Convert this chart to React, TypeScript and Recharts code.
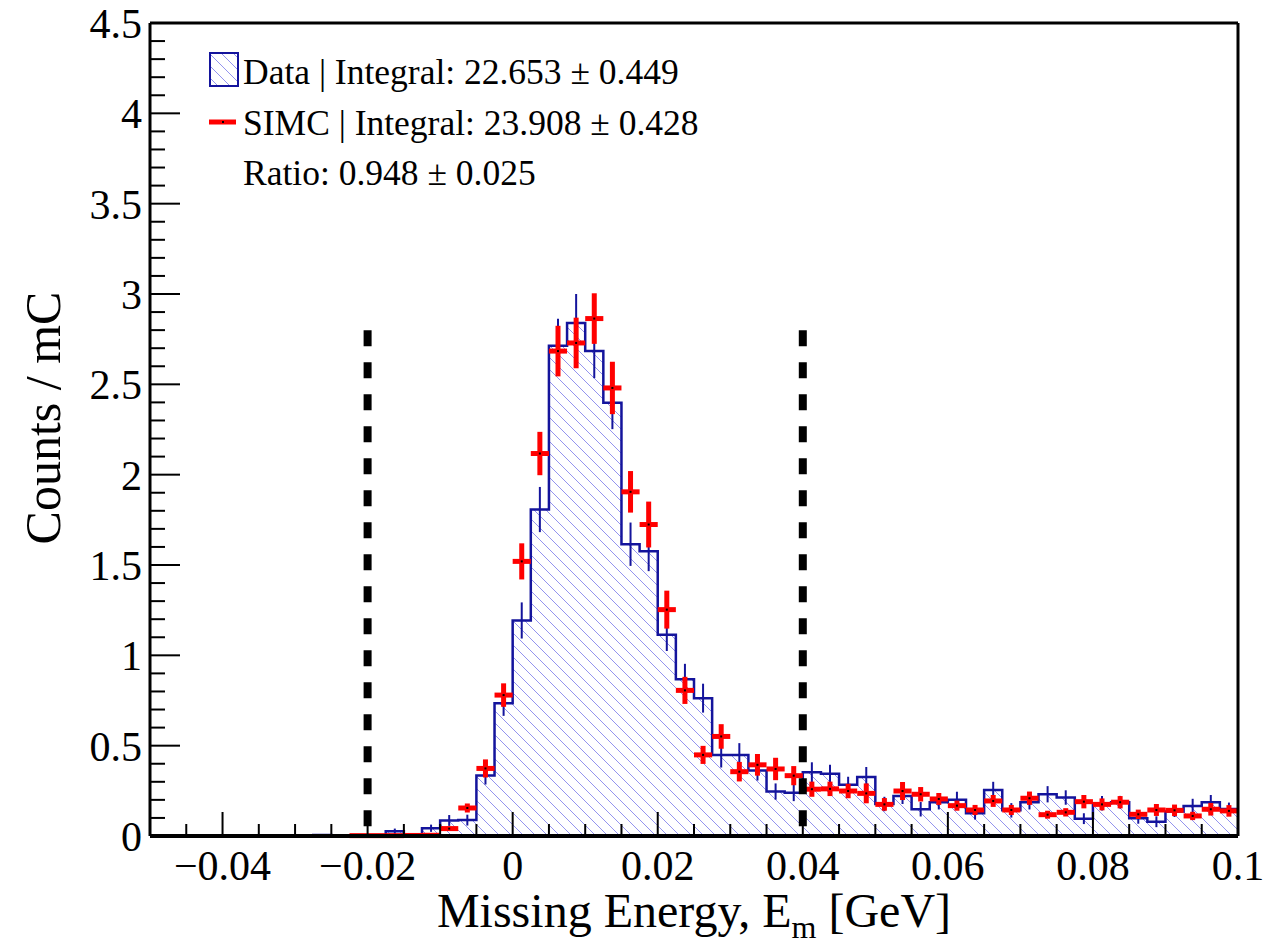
import React from "react";
import {
  Area,
  ComposedChart,
  ErrorBar,
  ReferenceLine,
  Scatter,
  XAxis,
  YAxis,
} from "recharts";

// binning of the histograms (60 bins of 2.5 MeV)
const BIN_LOW = -0.05;
const BIN_WIDTH = 0.0025;

const dataCounts = [
  0.004, 0.004, 0.004, 0.004, 0.004, 0.004, 0.004, 0.004, 0.004, 0.006,
  0.003, 0.003, 0.004, 0.026, 0.005, 0.043, 0.086, 0.088, 0.335, 0.735,
  1.193, 1.807, 2.713, 2.84, 2.684, 2.398, 1.615, 1.576, 1.114, 0.868,
  0.763, 0.449, 0.449, 0.362, 0.246, 0.24, 0.353, 0.345, 0.283, 0.327,
  0.177, 0.222, 0.148, 0.187, 0.2, 0.126, 0.255, 0.142, 0.187, 0.231,
  0.213, 0.096, 0.181, 0.187, 0.098, 0.079, 0.135, 0.166, 0.187, 0.15,
];
const dataErrors = [
  0.003, 0.003, 0.003, 0.003, 0.003, 0.003, 0.003, 0.003, 0.004, 0.005,
  0.003, 0.003, 0.004, 0.015, 0.004, 0.02, 0.03, 0.03, 0.05, 0.07,
  0.1, 0.125, 0.15, 0.16, 0.15, 0.146, 0.12, 0.11, 0.09, 0.085,
  0.08, 0.07, 0.065, 0.055, 0.045, 0.047, 0.055, 0.05, 0.045, 0.055,
  0.04, 0.045, 0.04, 0.04, 0.045, 0.035, 0.045, 0.04, 0.04, 0.045,
  0.04, 0.03, 0.04, 0.035, 0.03, 0.03, 0.03, 0.04, 0.04, 0.035,
];
const simcCounts = [
  null, null, null, null, null, null, null, null, null, null,
  null, 0.002, 0.002, 0.002, 0.003, 0.004, 0.041, 0.155, 0.374, 0.78,
  1.52, 2.117, 2.684, 2.729, 2.864, 2.48, 1.905, 1.724, 1.253, 0.806,
  0.449, 0.551, 0.356, 0.394, 0.371, 0.334, 0.259, 0.261, 0.249, 0.236,
  0.175, 0.249, 0.231, 0.205, 0.168, 0.144, 0.194, 0.144, 0.209, 0.118,
  0.131, 0.19, 0.175, 0.187, 0.12, 0.144, 0.142, 0.111, 0.148, 0.139,
];
const simcErrors = [
  0, 0, 0, 0, 0, 0, 0, 0, 0, 0,
  0, 0.003, 0.003, 0.003, 0.004, 0.006, 0.01, 0.025, 0.05, 0.065,
  0.1, 0.12, 0.14, 0.14, 0.14, 0.145, 0.115, 0.127, 0.105, 0.075,
  0.05, 0.068, 0.054, 0.06, 0.062, 0.053, 0.042, 0.04, 0.04, 0.055,
  0.035, 0.05, 0.04, 0.033, 0.028, 0.028, 0.033, 0.028, 0.037, 0.022,
  0.023, 0.037, 0.033, 0.034, 0.026, 0.033, 0.032, 0.023, 0.035, 0.032,
];

const xMajorTicks = [-0.04, -0.02, 0, 0.02, 0.04, 0.06, 0.08, 0.1];
const xTickLabels = ["\u22120.04", "\u22120.02", "0", "0.02", "0.04", "0.06", "0.08", "0.1"];
const yMajorTicks = [0, 0.5, 1, 1.5, 2, 2.5, 3, 3.5, 4, 4.5];
const yTickLabels = ["0", "0.5", "1", "1.5", "2", "2.5", "3", "3.5", "4", "4.5"];

// missing energy cut window
const cutLow = -0.02;
const cutHigh = 0.04;
const cutTop = 2.8;

const legendLines = [
  "Data | Integral: 22.653 \u00b1 0.449",
  "SIMC | Integral: 23.908 \u00b1 0.428",
  "Ratio: 0.948 \u00b1 0.025",
];

const FONT = "'Liberation Serif', 'Times New Roman', serif";
const BLUE = "#14149c";
const HATCH = "#9494ee";
const RED = "#ff0000";

const W = 1273;
const H = 944;
const M = { top: 23, right: 35, bottom: 0, left: 0 };

const xMinorTicks: number[] = [];
for (let i = 0; i <= 30; i++) xMinorTicks.push(Math.round((-0.05 + i * 0.005) * 1e4) / 1e4);
const yMinorTicks: number[] = [];
for (let i = 0; i <= 45; i++) yMinorTicks.push(Math.round(i * 0.1 * 10) / 10);

const stepData = dataCounts.map((v, i) => ({ x: BIN_LOW + i * BIN_WIDTH, data: v }));
stepData.push({ x: BIN_LOW + dataCounts.length * BIN_WIDTH, data: dataCounts[dataCounts.length - 1] });

const dataPoints = dataCounts.map((v, i) => ({
  x: BIN_LOW + (i + 0.5) * BIN_WIDTH,
  y: v,
  ey: dataErrors[i],
}));
const simcPoints = simcCounts
  .map((v, i) => ({ x: BIN_LOW + (i + 0.5) * BIN_WIDTH, y: v, ey: simcErrors[i], ex: BIN_WIDTH / 2 }))
  .filter((p) => p.y !== null);

const isMajor = (list: number[], v: number) => list.findIndex((t) => Math.abs(t - v) < 1e-9);

const XTick = (props: any) => {
  const { x, y, payload } = props;
  const idx = isMajor(xMajorTicks, payload.value);
  return (
    <g>
      <line x1={x} x2={x} y1={y} y2={y - (idx >= 0 ? 24 : 12)} stroke="#000" strokeWidth={2} />
      {idx >= 0 && (
        <text x={x} y={y + 44} textAnchor="middle" fontSize={42} fontFamily={FONT} fill="#000">
          {xTickLabels[idx]}
        </text>
      )}
    </g>
  );
};

const YTick = (props: any) => {
  const { x, y, payload } = props;
  const idx = isMajor(yMajorTicks, payload.value);
  return (
    <g>
      <line x1={x} x2={x + (idx >= 0 ? 30 : 15)} y1={y} y2={y} stroke="#000" strokeWidth={2} />
      {idx >= 0 && (
        <text x={x - 8} y={y + 15} textAnchor="end" fontSize={42} fontFamily={FONT} fill="#000">
          {yTickLabels[idx]}
        </text>
      )}
    </g>
  );
};

const NoDot = () => <g />;
const SimcDot = (props: any) => <rect x={props.cx - 1} y={props.cy - 1} width={2} height={2} fill="#000" />;

export default function App() {
  return (
    <div style={{ position: "absolute", left: 0, top: 0, width: W, height: H, background: "#fff" }}>
      <ComposedChart width={W} height={H} data={stepData} margin={M}>
        <defs>
          <pattern id="hatch" patternUnits="userSpaceOnUse" width={12} height={12}>
            <line x1={0} y1={0} x2={12} y2={12} stroke={HATCH} strokeWidth={1} />
            <line x1={-6} y1={6} x2={6} y2={18} stroke={HATCH} strokeWidth={1} />
            <line x1={6} y1={-6} x2={18} y2={6} stroke={HATCH} strokeWidth={1} />
          </pattern>
        </defs>
        <XAxis
          type="number"
          dataKey="x"
          domain={[-0.05, 0.1]}
          allowDataOverflow
          ticks={xMinorTicks}
          interval={0}
          tick={<XTick />}
          tickSize={0}
          tickMargin={0}
          height={108}
          axisLine={{ stroke: "#000", strokeWidth: 4 }}
          label={{
            content: (p: any) => {
              const vb = p.viewBox;
              return (
                <text x={vb.x + vb.width / 2} y={vb.y + 91} textAnchor="middle" fontSize={48} fontFamily={FONT} fill="#000">
                  Missing Energy, E
                  <tspan fontSize={32} dy={11}>m</tspan>
                  <tspan dy={-11}> [GeV]</tspan>
                </text>
              );
            },
          }}
        />
        <YAxis
          type="number"
          domain={[0, 4.5]}
          allowDataOverflow
          ticks={yMinorTicks}
          interval={0}
          tick={<YTick />}
          tickSize={0}
          tickMargin={0}
          width={150}
          axisLine={{ stroke: "#000", strokeWidth: 3 }}
          label={{
            content: () => {
              const cx = 60;
              const cy = 418;
              return (
                <text x={cx} y={cy} transform={`rotate(-90 ${cx} ${cy})`} textAnchor="middle" fontSize={50} fontFamily={FONT} fill="#000">
                  Counts / mC
                </text>
              );
            },
          }}
        />
        <Area
          type="stepAfter"
          dataKey="data"
          stroke={BLUE}
          strokeWidth={2.5}
          fill="url(#hatch)"
          fillOpacity={1}
          baseValue={0}
          isAnimationActive={false}
          dot={false}
          activeDot={false}
        />
        <Scatter data={dataPoints} dataKey="y" shape={<NoDot />} isAnimationActive={false}>
          <ErrorBar dataKey="ey" direction="y" width={0} stroke={BLUE} strokeWidth={2} />
        </Scatter>
        <Scatter data={simcPoints} dataKey="y" shape={<SimcDot />} isAnimationActive={false}>
          <ErrorBar dataKey="ex" direction="x" width={0} stroke={RED} strokeWidth={5} />
          <ErrorBar dataKey="ey" direction="y" width={0} stroke={RED} strokeWidth={5} />
        </Scatter>
        <ReferenceLine
          segment={[{ x: cutLow, y: cutTop }, { x: cutLow, y: 0 }]}
          stroke="#000"
          strokeWidth={8}
          strokeDasharray="16 16"
          ifOverflow="visible"
        />
        <ReferenceLine
          segment={[{ x: cutHigh, y: cutTop }, { x: cutHigh, y: 0 }]}
          stroke="#000"
          strokeWidth={8}
          strokeDasharray="16 16"
          ifOverflow="visible"
        />
        <ReferenceLine y={4.5} stroke="#000" strokeWidth={3} ifOverflow="visible" />
        <ReferenceLine x={0.1} stroke="#000" strokeWidth={3} ifOverflow="visible" />
      </ComposedChart>
      <svg width={W} height={220} style={{ position: "absolute", left: 0, top: 0, pointerEvents: "none" }}>
        <rect x={210} y={53} width={28} height={33} fill="url(#hatch)" stroke={BLUE} strokeWidth={2} />
        <line x1={209} x2={236} y1={122} y2={122} stroke={RED} strokeWidth={5} />
        <rect x={222} y={121} width={2} height={2} fill="#000" />
        {legendLines.map((t, i) => (
          <text key={t} x={243} y={84 + i * 50.5} fontSize={35.5} fontFamily={FONT} fill="#000">
            {t}
          </text>
        ))}
      </svg>
    </div>
  );
}
